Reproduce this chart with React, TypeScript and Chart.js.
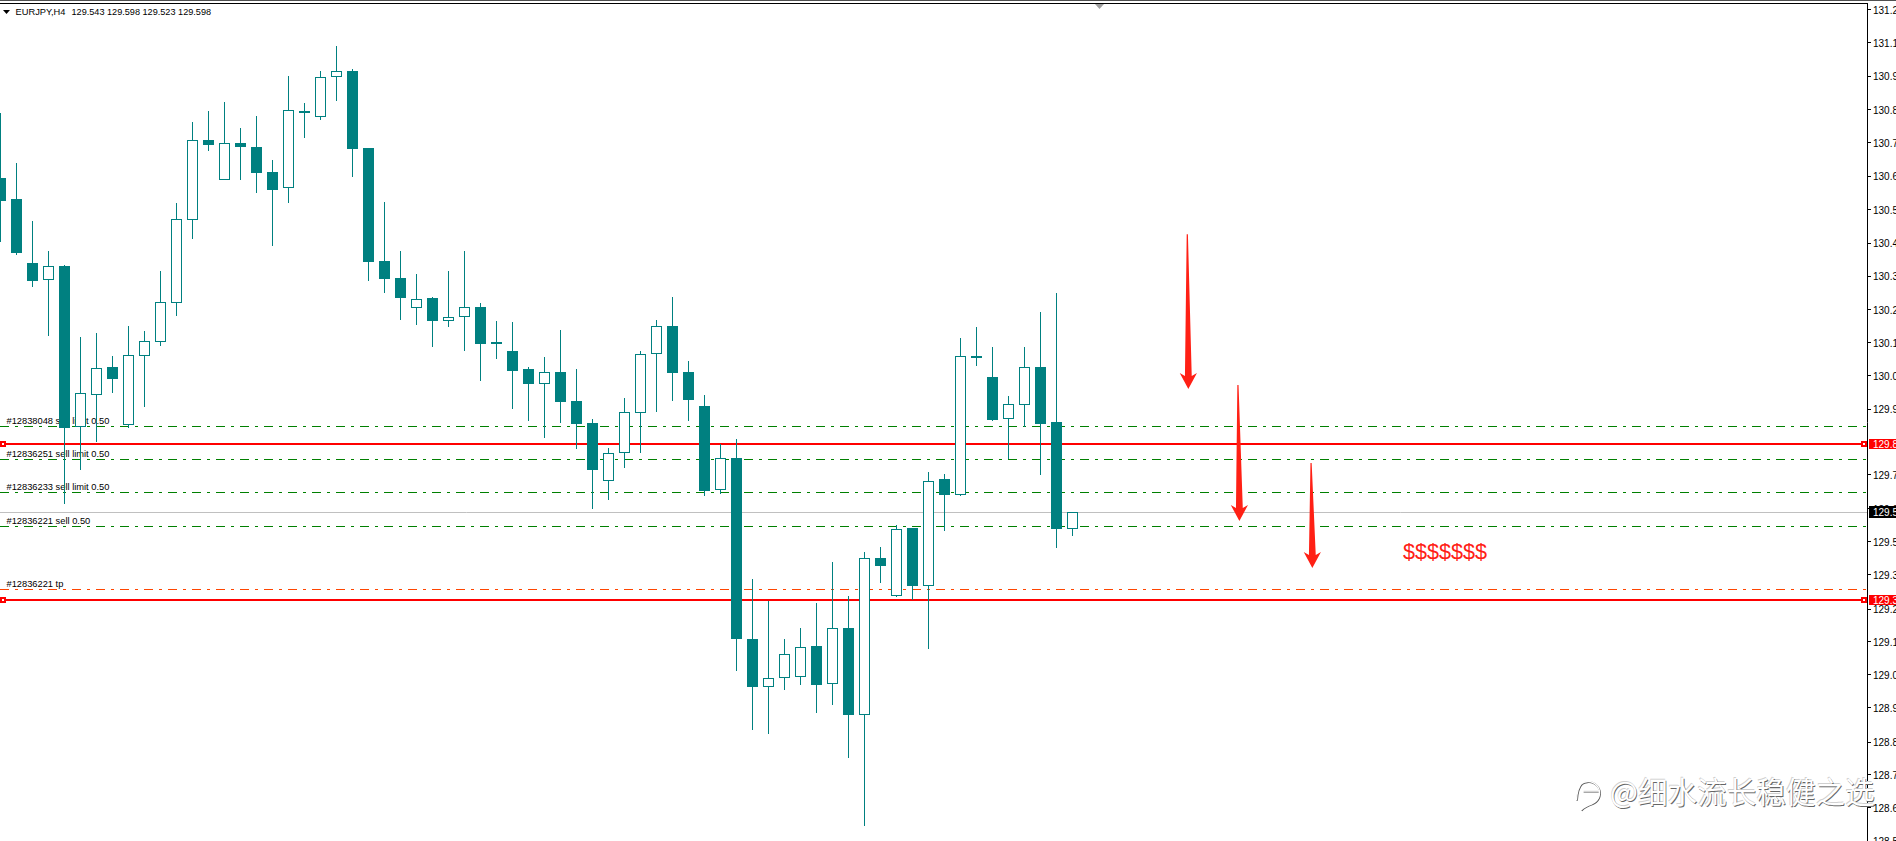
import React, { useEffect, useRef } from "react";
import { Chart, registerables } from "chart.js";

Chart.register(...registerables);

const opens = [130.671,130.604,130.398,130.345,130.389,129.873,129.976,130.064,129.879,130.101,130.146,130.271,130.537,130.793,130.666,130.784,130.771,130.690,130.640,130.886,130.868,130.994,131.015,130.768,130.405,130.350,130.255,130.286,130.213,130.226,130.257,130.145,130.116,130.058,130.011,130.048,129.955,129.885,129.700,129.787,129.916,130.105,130.195,130.047,129.939,129.669,129.772,129.193,129.037,129.065,129.068,129.169,129.046,129.227,128.949,129.451,129.331,129.549,129.363,129.705,129.655,130.099,130.032,129.899,129.943,130.065,129.888,129.543];
const highs = [130.881,130.719,130.533,130.437,130.392,130.161,130.174,130.100,130.196,130.180,130.373,130.591,130.851,130.886,130.915,130.832,130.870,130.729,130.999,130.912,131.015,131.095,131.021,130.768,130.594,130.437,130.363,130.289,130.373,130.437,130.270,130.212,130.209,130.063,130.097,130.183,130.058,129.897,129.803,129.966,130.116,130.215,130.290,130.084,129.974,129.817,129.832,129.384,129.313,129.192,129.227,129.308,129.438,129.330,129.471,129.487,129.558,129.549,129.727,129.721,130.158,130.192,130.129,129.971,130.129,130.241,130.302,129.598];
const lows = [130.467,130.424,130.322,130.165,129.626,129.734,129.825,129.982,129.870,129.937,130.133,130.229,130.476,130.759,130.666,130.665,130.624,130.454,130.592,130.801,130.858,130.919,130.675,130.341,130.302,130.215,130.199,130.129,130.193,130.117,130.019,130.090,129.931,129.892,129.837,129.886,129.802,129.610,129.638,129.741,129.789,129.921,129.956,129.890,129.649,129.658,129.090,128.898,128.888,129.029,129.045,128.955,128.978,128.808,128.591,129.371,129.326,129.318,129.159,129.538,129.650,130.068,129.891,129.768,129.873,129.718,129.485,129.523];
const closes = [130.598,130.430,130.341,130.388,129.870,129.980,130.060,130.026,130.102,130.147,130.272,130.539,130.792,130.777,130.783,130.771,130.687,130.633,130.889,130.884,130.994,131.014,130.764,130.402,130.347,130.286,130.282,130.212,130.224,130.256,130.138,130.138,130.052,130.010,130.047,129.952,129.881,129.734,129.790,129.919,130.105,130.195,130.045,129.960,129.668,129.772,129.193,129.036,129.066,129.143,129.167,129.044,129.226,128.948,129.450,129.426,129.544,129.361,129.700,129.654,130.099,130.093,129.894,129.945,130.066,129.881,129.545,129.598];

const tickValues = [131.211,131.105,130.998,130.890,130.784,130.677,130.569,130.462,130.356,130.248,130.142,130.036,129.929,129.718,129.609,129.503,129.397,129.287,129.182,129.076,128.970,128.860,128.755,128.649,128.543,129.817,129.598,129.316];
const tickLabels = ["131.2","131.1","130.9","130.8","130.7","130.6","130.5","130.4","130.3","130.2","130.1","130.0","129.9","129.7","129.6","129.5","129.3","129.2","129.1","129.0","128.9","128.8","128.7","128.6","128.5","129.8","129.5","129.3"];
const redTicks = [129.817, 129.316];
const blackTicks = [129.598];

const orderPrices = [129.874, 129.767, 129.661, 129.552, 129.350];
const orderColors = ["#008000", "#008000", "#008000", "#008000", "#ff4500"];
const orderLabels = ["#12838048 sell limit 0.50", "#12836251 sell limit 0.50", "#12836233 sell limit 0.50", "#12836221 sell 0.50", "#12836221 tp"];
const alertPrices = [129.817, 129.316];
const bidPrice = 129.598;
const markerIndexes = [0.156, 116.47];

const arrowTopIndex = [74.175, 77.34, 81.91];
const arrowTopPrice = [130.491, 130.007, 129.756];
const arrowTipIndex = [74.24, 77.43, 81.99];
const arrowTipPrice = [129.994, 129.570, 129.419];
const noteIndex = 87.66;
const notePrice = 129.448;
const noteText = "$$$$$$$";

const headerSymbol = "EURJPY,H4";
const headerPrices = "129.543 129.598 129.523 129.598";
const watermark = "@细水流长稳健之选";

const WIDTH = 1896;
const HEIGHT = 841;
const TEAL = "#008080";
const ARROW = "#ff2015";
const FONT = '"Liberation Sans", Arial, sans-serif';
const X_MIN = -0.5 / 16;
const X_MAX = 1866.5 / 16;
const Y_MAX = 131.233;
const Y_MIN = 128.543;

const isIn = (list: number[], v: number) => list.includes(v);

const drawDecor = {
  id: "decor",
  beforeDraw(chart: any) {
    const { ctx, scales } = chart;
    ctx.save();
    ctx.fillStyle = "#ffffff";
    ctx.fillRect(0, 0, WIDTH, HEIGHT);
    ctx.restore();
    // nudge the axis labels one pixel down and size the price flags
    scales.y.getLabelItems(chart.chartArea).forEach((item: any, i: number) => {
      if (item.nudged) return;
      item.nudged = true;
      const tx = item.options.translation[0];
      const ty = item.options.translation[1] + 1;
      item.options.translation = [tx, ty];
      const box = item.options.backdrop;
      if (box) {
        const v = tickValues[i];
        const py = scales.y.getPixelForValue(v);
        const h = isIn(blackTicks, v) ? 12 : 10;
        box.left = 1869 - tx;
        box.width = WIDTH - 1869;
        box.top = Math.round(py) - Math.round(h / 2) - ty;
        box.height = h;
      }
    });
  },
  beforeDatasetsDraw(chart: any) {
    chart.data.datasets.forEach((ds: any, i: number) => {
      const meta = chart.getDatasetMeta(i);
      if (ds.snap === "bar") {
        meta.data.forEach((el: any) => {
          el.y = Math.round(el.y);
          el.base = Math.round(el.base);
          if (ds.minHeight && Math.abs(el.base - el.y) < ds.minHeight) el.base = el.y + ds.minHeight;
        });
      } else if (ds.snap === "half") {
        meta.data.forEach((el: any) => { el.y = Math.floor(el.y) + 0.5; });
      } else if (ds.snap === "whole") {
        meta.data.forEach((el: any) => { el.y = Math.round(el.y); el.x = Math.round(el.x); });
      }
    });
  },
  beforeDatasetDraw(chart: any, args: any) {
    const ds = chart.data.datasets[args.index];
    if (!ds.isWick) return;
    const { ctx, scales } = chart;
    ctx.save();
    ctx.fillStyle = "#000000";
    ctx.font = `9.3px ${FONT}`;
    ctx.textBaseline = "alphabetic";
    orderLabels.forEach((t, i) => {
      ctx.fillText(t, 6.5, Math.floor(scales.y.getPixelForValue(orderPrices[i])) - 2);
    });
    ctx.restore();
  },
  afterDraw(chart: any) {
    const { ctx, scales } = chart;
    ctx.save();
    // window frame
    ctx.fillStyle = "#505050";
    ctx.fillRect(0, 0, WIDTH, 1);
    ctx.fillStyle = "#000000";
    ctx.fillRect(0, 3, chart.chartArea.right + 1, 1);
    // shift marker
    ctx.fillStyle = "#a0a0a0";
    ctx.beginPath();
    ctx.moveTo(1095, 4);
    ctx.lineTo(1104, 4);
    ctx.lineTo(1099.5, 9);
    ctx.closePath();
    ctx.fill();
    // header
    ctx.fillStyle = "#000000";
    ctx.beginPath();
    ctx.moveTo(3, 10);
    ctx.lineTo(10, 10);
    ctx.lineTo(6.5, 14);
    ctx.closePath();
    ctx.fill();
    ctx.font = `9.3px ${FONT}`;
    ctx.textBaseline = "alphabetic";
    ctx.fillText(headerSymbol, 15.5, 15);
    ctx.font = `9.15px ${FONT}`;
    ctx.fillText(headerPrices, 71.5, 15);
    // arrows
    ctx.fillStyle = ARROW;
    arrowTopIndex.forEach((_, i) => {
      const xt = scales.x.getPixelForValue(arrowTopIndex[i]);
      const yt = scales.y.getPixelForValue(arrowTopPrice[i]);
      const xp = scales.x.getPixelForValue(arrowTipIndex[i]);
      const yp = scales.y.getPixelForValue(arrowTipPrice[i]);
      const yb = yp - 16;
      ctx.beginPath();
      ctx.moveTo(xt - 0.6, yt);
      ctx.lineTo(xt + 0.6, yt);
      ctx.lineTo(xp + 3.4, yb + 3);
      ctx.lineTo(xp + 8.6, yb);
      ctx.lineTo(xp, yp);
      ctx.lineTo(xp - 8.6, yb);
      ctx.lineTo(xp - 3.4, yb + 3);
      ctx.closePath();
      ctx.fill();
    });
    // note
    ctx.font = `21.6px ${FONT}`;
    ctx.fillText(noteText, scales.x.getPixelForValue(noteIndex), scales.y.getPixelForValue(notePrice));
    // watermark: embossed text
    const wmText = (dx: number, dy: number, color: string) => {
      ctx.fillStyle = color;
      ctx.font = '29.6px "Noto Sans CJK SC"';
      ctx.fillText(watermark, 1610 + dx, 803 + dy);
    };
    wmText(-0.6, -0.6, "#d0d0d0");
    wmText(0.8, 0.8, "#666666");
    wmText(0, 0, "#ffffff");
    const wmIcon = (dx: number, dy: number, color: string, lw: number) => {
      ctx.strokeStyle = color;
      ctx.lineWidth = lw;
      ctx.beginPath();
      ctx.arc(1588 + dx, 793 + dy, 11.5, -2.3, 1.2);
      ctx.quadraticCurveTo(1585 + dx, 806 + dy, 1581 + dx, 810 + dy);
      ctx.moveTo(1576.5 + dx, 800 + dy);
      ctx.quadraticCurveTo(1577 + dx, 788 + dy, 1582 + dx, 783 + dy);
      ctx.moveTo(1583 + dx, 791 + dy);
      ctx.lineTo(1600 + dx, 791 + dy);
      ctx.stroke();
    };
    wmIcon(0.6, 0.6, "#555555", 1.6);
    wmIcon(0, 0, "#ffffff", 1.4);
    ctx.restore();
  },
};

export default function App() {
  const ref = useRef<HTMLCanvasElement | null>(null);
  useEffect(() => {
    const canvas = ref.current as HTMLCanvasElement;
    canvas.getContext("2d", { alpha: false });
    const indexes = opens.map((_, i) => i);
    const lineEnds = (y: number) => [{ x: X_MIN, y }, { x: X_MAX, y }];
    const chart = new Chart(canvas, {
      type: "bar",
      data: {
        datasets: [
          {
            type: "bar",
            label: "Body",
            order: 0,
            snap: "bar",
            minHeight: 2,
            data: indexes.map((i) => ({ x: i, y: [opens[i], closes[i]] })),
            backgroundColor: (c: any) => (closes[c.dataIndex] > opens[c.dataIndex] ? "#ffffff" : TEAL),
            borderColor: TEAL,
            borderWidth: 1,
            borderSkipped: false,
            grouped: false,
            barPercentage: 1,
            categoryPercentage: 1,
            maxBarThickness: 11,
            inflateAmount: 0,
          },
          {
            type: "bar",
            label: "Wick",
            order: 1,
            snap: "bar",
            isWick: true,
            data: indexes.map((i) => ({ x: i, y: [lows[i], highs[i]] })),
            backgroundColor: TEAL,
            borderWidth: 0,
            grouped: false,
            barPercentage: 1,
            categoryPercentage: 1,
            maxBarThickness: 1,
            inflateAmount: 0,
          },
          {
            type: "line",
            label: "Markers",
            order: 2,
            snap: "whole",
            showLine: false,
            clip: false,
            data: alertPrices.flatMap((y) => markerIndexes.map((x) => ({ x, y }))),
            pointStyle: "rect",
            pointRadius: 2.83,
            pointBorderWidth: 2,
            pointBorderColor: "#ff0000",
            pointBackgroundColor: "#ffffff",
          },
          ...alertPrices.map((y) => ({
            type: "line",
            label: "Alert",
            order: 3,
            snap: "whole",
            data: lineEnds(y),
            borderColor: "#ff0000",
            borderWidth: 2,
            pointRadius: 0,
          })),
          ...orderPrices.map((y, i) => ({
            type: "line",
            label: orderLabels[i],
            order: 3,
            snap: "half",
            data: lineEnds(y),
            borderColor: orderColors[i],
            borderWidth: 1,
            borderDash: [9, 6, 3, 6],
            pointRadius: 0,
          })),
          {
            type: "line",
            label: "Bid",
            order: 4,
            snap: "half",
            data: lineEnds(bidPrice),
            borderColor: "#c0c0c0",
            borderWidth: 1,
            pointRadius: 0,
          },
        ],
      } as any,
      options: {
        responsive: false,
        devicePixelRatio: 1,
        animation: false,
        maintainAspectRatio: false,
        layout: { autoPadding: false, padding: { top: 3, left: 0, right: 0, bottom: 0 } },
        plugins: { legend: { display: false }, tooltip: { enabled: false }, title: { display: false } },
        font: { family: FONT },
        scales: {
          x: {
            type: "linear",
            display: false,
            offset: false,
            min: X_MIN,
            max: X_MAX,
            grid: { display: false },
          },
          y: {
            type: "linear",
            position: "right",
            min: Y_MIN,
            max: Y_MAX,
            afterBuildTicks: (s: any) => {
              s.ticks = tickValues.map((value) => ({ value }));
            },
            afterFit: (s: any) => {
              s.width = WIDTH - 1867;
              s.paddingTop = 0;
              s.paddingBottom = 0;
            },
            border: { display: true, color: "#000000", width: 1 },
            grid: {
              drawOnChartArea: false,
              drawTicks: true,
              tickLength: 4,
              tickColor: (c: any) => (isIn(redTicks, c.tick?.value) || isIn(blackTicks, c.tick?.value) ? "rgba(0,0,0,0)" : "#000000"),
            },
            ticks: {
              autoSkip: false,
              padding: 2,
              align: "center",
              font: { family: FONT, size: 10, lineHeight: 1 },
              callback: (_v: any, i: number) => tickLabels[i],
              color: (c: any) => (isIn(redTicks, c.tick?.value) || isIn(blackTicks, c.tick?.value) ? "#ffffff" : "#000000"),
              showLabelBackdrop: (c: any) => isIn(redTicks, c.tick?.value) || isIn(blackTicks, c.tick?.value),
              backdropColor: (c: any) => (isIn(redTicks, c.tick?.value) ? "#ff0000" : "#000000"),
              backdropPadding: { left: 4, right: 4, top: 0, bottom: 1 },
            },
          },
        },
      } as any,
      plugins: [drawDecor] as any,
    });
    return () => chart.destroy();
  }, []);
  return (
    <canvas
      ref={ref}
      width={WIDTH}
      height={HEIGHT}
      style={{ position: "fixed", left: 0, top: 0, width: WIDTH, height: HEIGHT, display: "block" }}
    />
  );
}
